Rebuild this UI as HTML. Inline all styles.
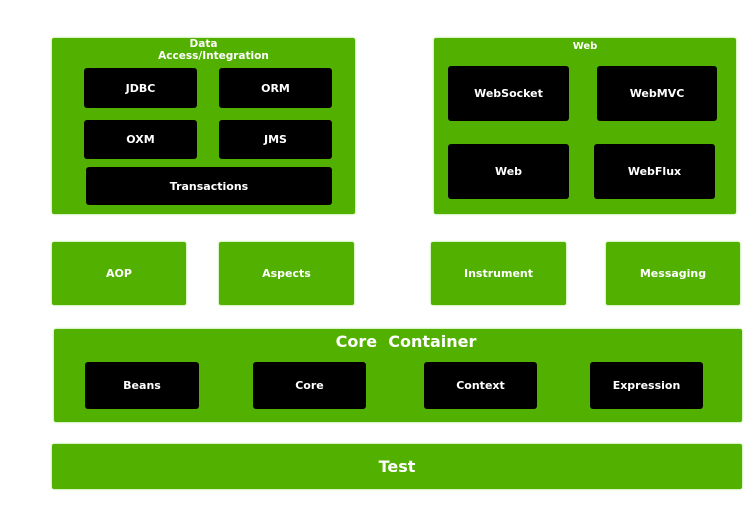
<!DOCTYPE html>
<html><head><style>
body{margin:0;width:754px;height:522px;background:#fff;position:relative;overflow:hidden;font-family:"DejaVu Sans","Liberation Sans",sans-serif;font-weight:bold;}
.g{position:absolute;background:#52b000;box-shadow:0 0 2px #8ee05a;color:#fff;border-radius:2px}
.k{position:absolute;background:#000;color:#fff;border-radius:3px;display:flex;align-items:center;justify-content:center;font-size:11px}
.c{display:flex;align-items:center;justify-content:center;font-size:11px}
.t{position:absolute;left:0;right:0;text-align:center;color:#fff}
</style></head><body>
<div class="g" style="left:52px;top:38px;width:303px;height:176px"></div>
<div class="t" style="left:62px;width:303px;top:38px;font-size:10.5px;line-height:12px"><span style="margin-right:20px">Data</span><br>Access/Integration</div>
<div class="k" style="left:84px;top:68px;width:113px;height:40px">JDBC</div>
<div class="k" style="left:219px;top:68px;width:113px;height:40px">ORM</div>
<div class="k" style="left:84px;top:120px;width:113px;height:39px">OXM</div>
<div class="k" style="left:219px;top:120px;width:113px;height:39px">JMS</div>
<div class="k" style="left:86px;top:167px;width:246px;height:38px">Transactions</div>

<div class="g" style="left:434px;top:38px;width:302px;height:176px"></div>
<div class="t" style="left:434px;width:302px;top:41px;font-size:10px">Web</div>
<div class="k" style="left:448px;top:66px;width:121px;height:55px">WebSocket</div>
<div class="k" style="left:597px;top:66px;width:120px;height:55px">WebMVC</div>
<div class="k" style="left:448px;top:144px;width:121px;height:55px">Web</div>
<div class="k" style="left:594px;top:144px;width:121px;height:55px">WebFlux</div>

<div class="g c" style="left:52px;top:242px;width:134px;height:63px">AOP</div>
<div class="g c" style="left:219px;top:242px;width:135px;height:63px">Aspects</div>
<div class="g c" style="left:431px;top:242px;width:135px;height:63px">Instrument</div>
<div class="g c" style="left:606px;top:242px;width:134px;height:63px">Messaging</div>

<div class="g" style="left:54px;top:329px;width:688px;height:93px"></div>
<div class="t" style="left:62px;width:688px;top:332px;font-size:16px">Core&nbsp; Container</div>
<div class="k" style="left:85px;top:362px;width:114px;height:47px">Beans</div>
<div class="k" style="left:253px;top:362px;width:113px;height:47px">Core</div>
<div class="k" style="left:424px;top:362px;width:113px;height:47px">Context</div>
<div class="k" style="left:590px;top:362px;width:113px;height:47px">Expression</div>

<div class="g c" style="left:52px;top:444px;width:690px;height:45px;font-size:16px">Test</div>
</body></html>
